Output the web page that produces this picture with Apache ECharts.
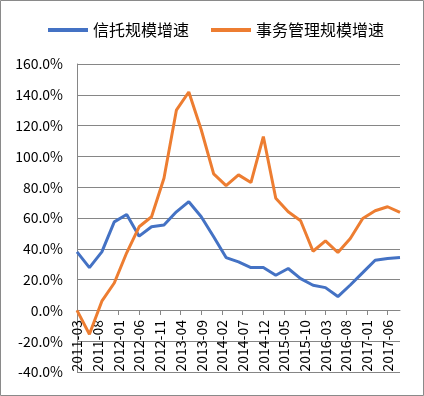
<!DOCTYPE html>
<html>
<head>
<meta charset="utf-8">
<script src="https://cdn.jsdelivr.net/npm/echarts@6/dist/echarts.min.js"></script>
<style>
html,body{margin:0;padding:0;background:#fff;}
#c{width:424px;height:396px;}
</style>
</head>
<body>
<div id="c"></div>
<script>
// Quarterly observations
var quarters = ['2011-03','2011-06','2011-09','2011-12','2012-03','2012-06','2012-09','2012-12',
  '2013-03','2013-06','2013-09','2013-12','2014-03','2014-06','2014-09','2014-12',
  '2015-03','2015-06','2015-09','2015-12','2016-03','2016-06','2016-09','2016-12',
  '2017-03','2017-06','2017-09'];
var trustGrowth = [38.0,27.8,38.0,57.5,62.3,48.2,54.3,55.4,64.0,70.6,60.8,47.8,34.3,31.5,27.8,27.8,
  22.8,27.2,20.6,16.3,14.8,9.0,16.5,24.5,32.6,33.7,34.3];
var affairsGrowth = [0.0,-15.5,6.0,17.8,37.4,54.3,60.8,85.8,130.0,141.8,117.3,88.6,81.0,88.0,83.0,112.9,
  72.8,64.0,58.2,38.4,45.2,37.6,46.7,59.7,64.7,67.3,63.6];
var seriesNames = ['信托规模增速','事务管理规模增速'];
var yTicks = {min:-40, max:160, interval:20};

// monthly category axis from first to last quarter
var months = [];
(function(){
  var s = quarters[0].split('-'), e = quarters[quarters.length-1].split('-');
  var y = +s[0], m = +s[1], ey = +e[0], em = +e[1];
  while (y < ey || (y === ey && m <= em)) {
    months.push(y + '-' + (m < 10 ? '0' + m : '' + m));
    m++; if (m > 12) { m = 1; y++; }
  }
})();

var chart = echarts.init(document.getElementById('c'));
var font = 'Noto Sans CJK SC';
var axisColor = '#868686';
chart.setOption({
  animation: false,
  backgroundColor: '#fff',
  graphic: [{
    type: 'rect', silent: true,
    shape: {x: 0.5, y: 0.5, width: 423, height: 395},
    style: {fill: 'none', stroke: '#8a8a8a', lineWidth: 1}
  }],
  legend: {
    top: 17, left: 43,
    itemWidth: 40, itemHeight: 4, itemGap: 22,
    icon: 'rect',
    textStyle: {fontFamily: font, fontSize: 16, color: '#000'},
    data: seriesNames
  },
  grid: [
    {left: 77, right: 24, top: 64, bottom: 24, containLabel: false, outerBoundsMode: 'none'},
    // zero-line axis: same horizontal extent, bottom edge at the 0% level
    {left: 77, right: 24, top: 64, bottom: 86, containLabel: false, outerBoundsMode: 'none'}
  ],
  xAxis: [{
    gridIndex: 0,
    type: 'category',
    data: months,
    boundaryGap: false,
    axisLine: {show: false, onZero: false},
    axisTick: {show: false},
    axisLabel: {show: false},
    splitLine: {show: false}
  }, {
    gridIndex: 1,
    type: 'category',
    data: months,
    boundaryGap: false,
    position: 'bottom',
    axisLine: {show: true, onZero: false, lineStyle: {color: axisColor, width: 1}},
    axisTick: {show: true, interval: 4, length: 5, lineStyle: {color: axisColor}},
    axisLabel: {interval: 4, rotate: 90, margin: 10, fontFamily: font, fontSize: 14, color: '#000'},
    splitLine: {show: false}
  }],
  yAxis: [{
    gridIndex: 0,
    type: 'value',
    min: yTicks.min, max: yTicks.max, interval: yTicks.interval,
    axisLine: {show: true, lineStyle: {color: axisColor, width: 1}},
    axisTick: {show: false},
    axisLabel: {margin: 14, fontFamily: font, fontSize: 14, color: '#000',
      formatter: function(v){ return v.toFixed(1) + '%'; }},
    splitLine: {lineStyle: {color: axisColor, width: 1}}
  }, {
    gridIndex: 1,
    type: 'value',
    min: 0, max: yTicks.max, show: false,
    splitLine: {show: false}
  }],
  series: [
    {name: seriesNames[0], type: 'line', symbol: 'none', color: '#4472C4',
     xAxisIndex: 0, yAxisIndex: 0,
     lineStyle: {width: 3, color: '#4472C4'},
     data: quarters.map(function(q, i){ return [q, trustGrowth[i]]; })},
    {name: seriesNames[1], type: 'line', symbol: 'none', color: '#ED7D31',
     xAxisIndex: 0, yAxisIndex: 0,
     lineStyle: {width: 3, color: '#ED7D31'},
     data: quarters.map(function(q, i){ return [q, affairsGrowth[i]]; })}
  ]
});
</script>
</body>
</html>
